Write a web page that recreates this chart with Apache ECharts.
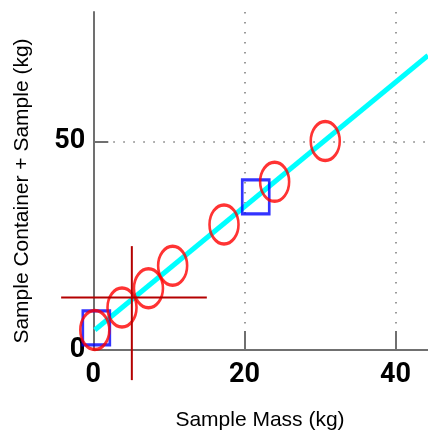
<!DOCTYPE html>
<html>
<head>
<meta charset="utf-8">
<script src="https://cdn.jsdelivr.net/npm/echarts@6/dist/echarts.min.js"></script>
<style>html,body{margin:0;padding:0;background:#fff}#c{width:428px;height:432px}</style>
</head>
<body>
<div id="c"></div>
<script>
// ---- data ----
var xTicks = [0, 20, 40];
var yTicks = [0, 50];
var circleX = [0.2, 3.8, 7.3, 10.5, 17.3, 24.0, 30.7];
var circleY = [4.8, 10.2, 14.8, 20.2, 30.1, 40.3, 50.1];
var squareX = [0.4, 21.5];
var squareY = [5.3, 36.7];
var fitX = [0.2, 44.3];
var fitY = [4.8, 70.6];
var crossX = [5.1];
var crossY = [12.6];
var xTitle = 'Sample Mass (kg)';
var yTitle = 'Sample Container + Sample (kg)';

function zip(a, b) { return a.map(function (v, i) { return [v, b[i]]; }); }

var ellipsePath = 'path://M50,0 C77.6,0 100,22.4 100,50 C100,77.6 77.6,100 50,100 C22.4,100 0,77.6 0,50 C0,22.4 22.4,0 50,0 Z';
var axisColor = '#707070';
var tickFont = { color: '#000', fontSize: 27, fontWeight: 'bold', fontFamily: "Roboto, 'Liberation Sans', sans-serif" };
var gridStyle = { color: '#7a7a7a', width: 1.5, type: [1.5, 8.5] };

var chart = echarts.init(document.getElementById('c'));
chart.setOption({
  backgroundColor: '#fff',
  animation: false,
  grid: { left: 93.3, right: 0, top: 12, bottom: 82 },
  xAxis: {
    type: 'value', min: 0, max: 44.3, interval: 20,
    axisLine: { show: true, lineStyle: { color: axisColor, width: 2 } },
    axisTick: { show: true, inside: true, length: 19, customValues: xTicks, lineStyle: { color: axisColor, width: 2 } },
    axisLabel: Object.assign({ margin: 12, customValues: xTicks }, tickFont),
    splitLine: { show: true, lineStyle: gridStyle }
  },
  yAxis: {
    type: 'value', min: 0, max: 81, interval: 50,
    axisLine: { show: true, lineStyle: { color: axisColor, width: 2 } },
    axisTick: { show: true, inside: true, length: 15, customValues: yTicks, lineStyle: { color: axisColor, width: 2 } },
    axisLabel: Object.assign({ margin: 8, customValues: yTicks }, tickFont),
    splitLine: { show: true, lineStyle: gridStyle }
  },
  graphic: [
    { type: 'text', x: 260, y: 420, style: { text: xTitle, textAlign: 'center', textVerticalAlign: 'middle', font: '21px "Liberation Sans", Arial, sans-serif', fill: '#000' } },
    { type: 'text', x: 22, y: 191, rotation: Math.PI / 2, style: { text: yTitle, textAlign: 'center', textVerticalAlign: 'middle', font: '21px "Liberation Sans", Arial, sans-serif', fill: '#000' } }
  ],
  series: [
    { type: 'line', data: zip(fitX, fitY), symbol: 'none', z: 2, lineStyle: { color: '#00ffff', width: 5 } },
    { type: 'scatter', data: zip(squareX, squareY), symbol: 'rect', symbolSize: [27, 34], z: 3,
      itemStyle: { color: 'rgba(0,0,0,0)', borderColor: '#0000ff', borderWidth: 3 } },
    { type: 'scatter', data: zip(circleX, circleY), symbol: ellipsePath, symbolSize: [29, 39], z: 4,
      itemStyle: { color: 'rgba(0,0,0,0)', borderColor: '#ff0000', borderWidth: 3 } },
    { type: 'custom', data: zip(crossX, crossY), z: 5, clip: false,
      renderItem: function (params, api) {
        var p = api.coord([api.value(0), api.value(1)]);
        var st = { stroke: '#b40000', lineWidth: 2 };
        return { type: 'group', children: [
          { type: 'line', shape: { x1: p[0] - 70.7, y1: p[1], x2: p[0] + 75, y2: p[1] }, style: st },
          { type: 'line', shape: { x1: p[0], y1: p[1] - 51.3, x2: p[0], y2: p[1] + 82.7 }, style: st }
        ] };
      } }
  ]
});
</script>
</body>
</html>
